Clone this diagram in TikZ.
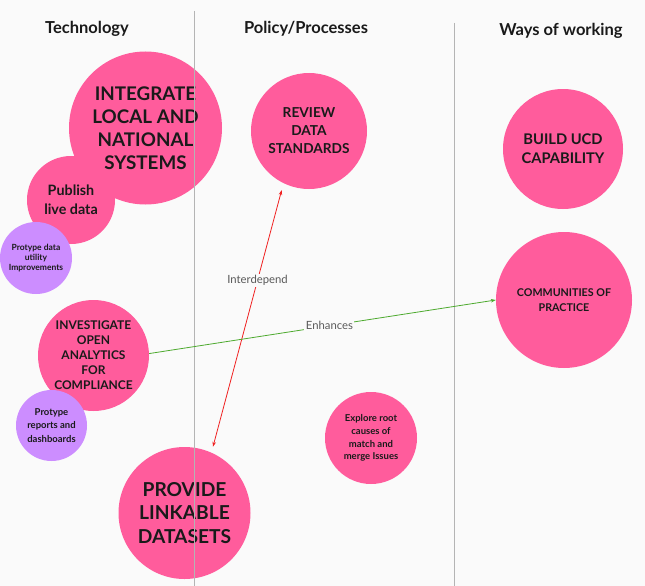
\documentclass[tikz,border=0pt]{standalone}
\usepackage{fontspec}
\setmainfont{Lato}
\usetikzlibrary{arrows.meta}
\definecolor{bg}{HTML}{FAFAFA}
\definecolor{pk}{HTML}{FF5C9C}
\definecolor{pu}{HTML}{CC8DFF}
\definecolor{vl}{HTML}{B4B4B4}
\definecolor{ink}{HTML}{1A1A1A}
\definecolor{rd}{HTML}{F02020}
\definecolor{gr}{HTML}{4DAA2E}
\begin{document}
\begin{tikzpicture}[x=1pt,y=-1pt,
 blob/.style={circle, fill=pk, inner sep=0pt, minimum size=#1, align=center, text=ink},
 pblob/.style={blob=#1, fill=pu},
 head/.style={font=\fontsize{16.5}{19}\selectfont\bfseries, text=ink},
 divider/.style={draw=vl, line width=1pt},
 lbl/.style={fill=bg, inner sep=1.5pt, text=black!65, font=\fontsize{11.3}{13}\selectfont},
 mytip/.tip={Stealth[length=5pt,width=3.5pt]}
]
\fill[bg] (0,0) rectangle (645,586);
\useasboundingbox (0,0) rectangle (645,586);

\node[blob=88pt, font=\fontsize{14.3}{19}\selectfont\bfseries] (pub) at (71,200) {Publish\\live data};
\node[blob=153pt, font=\fontsize{18.8}{23}\selectfont\bfseries] (integ) at (145.5,128) {INTEGRATE\\LOCAL AND\\NATIONAL\\SYSTEMS};
\node[pblob=72pt, font=\fontsize{8.5}{10}\selectfont\bfseries] (pdu) at (36,258) {Protype data\\utility\\Improvements};
\node[blob=116pt, font=\fontsize{13.7}{18}\selectfont\bfseries] (rev) at (309,131) {REVIEW\\DATA\\STANDARDS};
\node[blob=120pt, font=\fontsize{14.7}{19}\selectfont\bfseries] (ucd) at (563,149) {BUILD UCD\\CAPABILITY};
\node[blob=136pt, font=\fontsize{10.7}{15}\selectfont\bfseries] (com) at (564,300) {COMMUNITIES OF\\PRACTICE};
\node[blob=111pt, font=\fontsize{12}{15}\selectfont\bfseries] (ana) at (93.5,355.5) {INVESTIGATE\\OPEN\\ANALYTICS\\FOR\\COMPLIANCE};
\node[pblob=71pt, font=\fontsize{9.5}{13.5}\selectfont\bfseries] (prd) at (51.5,425.5) {Protype\\reports and\\dashboards};
\node[blob=92pt, font=\fontsize{9.5}{12.7}\selectfont\bfseries] (exp) at (371,438) {Explore root\\causes of\\match and\\merge Issues};
\node[blob=132pt, font=\fontsize{19.2}{23.5}\selectfont\bfseries] (prov) at (184.5,513) {PROVIDE\\LINKABLE\\DATASETS};

\node[head] (h1) at (87,29) {Technology};
\node[head] (h2) at (306,29) {Policy/Processes};
\node[head] (h3) at (561,31) {Ways of working};

\coordinate (d1t) at (194,11);
\coordinate (d1b) at (194,586);
\coordinate (d2t) at (454,23);
\coordinate (d2b) at (454,586);
\draw[divider] (d1t) -- (d1b);
\draw[divider] (d2t) -- (d2b);

\draw[rd, line width=0.8pt, mytip-mytip, shorten <=7pt, shorten >=6pt] (rev.244) -- node[lbl, pos=0.36] {Interdepend} (prov.66);
\draw[gr, line width=0.8pt, -mytip] (ana.2) -- node[lbl, pos=0.52] {Enhances} (com.180);
\end{tikzpicture}
\end{document}
